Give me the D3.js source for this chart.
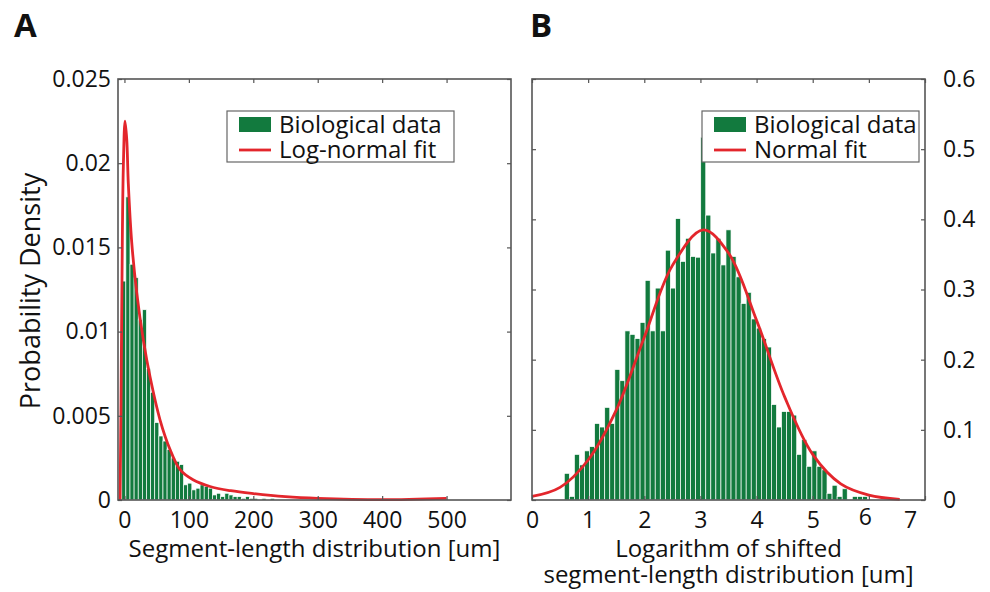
<!DOCTYPE html>
<html><head><meta charset="utf-8">
<script src="https://cdn.jsdelivr.net/npm/d3@7"></script>
<style>
body{margin:0;background:#fff}
svg{display:block}
text{font-family:'Open Sans',sans-serif;fill:#111}
</style>
</head><body>
<svg id="c" width="990" height="592"></svg>
<script>
// ---------- Panel A data ----------
const aBinStart = -4.2;
const aBinWidth = 6.4;
const aDensity = [0.013, 0.018, 0.0140, 0.0132, 0.0107, 0.0113, 0.0078, 0.0064, 0.0046, 0.0038,
  0.0035, 0.0030, 0.0025, 0.0023, 0.0021, 0.0009, 0.0010, 0.0006, 0.0007, 0.0009,
  0.0008, 0.0007, 0.0003, 0.0004, 0.0002, 0.0004, 0.0003, 0.0002, 0.0002, 0.0001,
  0.0002, 0.0001, 0.0001, 0, 0.0001, 0, 0.0001];
const aFitX = [-6.8, -5.3, -3.2, -1.7, 0.9, 3.6, 6, 11.3, 19.1, 29.3, 39.8, 55.3, 70.8, 86.3, 106.5, 132.9, 165, 200, 250, 300, 400, 500];
const aFitY = [0, 0.0059, 0.0158, 0.0198, 0.0225, 0.0214, 0.0188, 0.0153, 0.0123, 0.0095, 0.0073, 0.00475, 0.0030, 0.0018, 0.0012, 0.0008, 0.00055, 0.00038, 0.0002, 0.0001, 0.00002, 0.0001];
const aXTicks = [0, 100, 200, 300, 400, 500];
const aYTicks = [0, 0.005, 0.01, 0.015, 0.02, 0.025];
const aYTickLabels = ["0", "0.005", "0.01", "0.015", "0.02", "0.025"];

// ---------- Panel B data ----------
const bBinStart = 0.575;
const bBinWidth = 0.09;
const bDensity = [0.038, 0.005, 0.065, 0.050, 0.070, 0.076, 0.109, 0.104, 0.132, 0.109,
  0.186, 0.170, 0.241, 0.236, 0.230, 0.253, 0.313, 0.241, 0.302, 0.241,
  0.356, 0.302, 0.401, 0.340, 0.373, 0.347, 0.346, 0.517, 0.406, 0.352,
  0.373, 0.335, 0.385, 0.347, 0.318, 0.280, 0.296, 0.258, 0.245, 0.230,
  0.218, 0.136, 0.104, 0.126, 0.126, 0.121, 0.065, 0.086, 0.048, 0.070,
  0.048, 0.043, 0.0095, 0.021, 0.005, 0.016, 0, 0.005, 0.005, 0.005];
const bFitX = [0, 0.5, 1.0, 1.5, 2.0, 2.5, 3.05, 3.5, 4.0, 4.5, 5.0, 5.5, 6.0, 6.55];
const bFitY = [0.005, 0.018, 0.057, 0.128, 0.232, 0.334, 0.385, 0.352, 0.256, 0.147, 0.065, 0.023, 0.007, 0.001];
const bXTicks = [0, 1, 2, 3, 4, 5, 6, 7];
const bYTicks = [0, 0.1, 0.2, 0.3, 0.4, 0.5, 0.6];
const bYTickLabels = ["0", "0.1", "0.2", "0.3", "0.4", "0.5", "0.6"];

const legendA = ["Biological data", "Log-normal fit"];
const legendB = ["Biological data", "Normal fit"];

// ---------- styles ----------
const GREEN = "#127a3e", RED = "#e3262c", FRAME = "#555";
const TICKFS = 23, LABELFS = 24;

const svg = d3.select("#c");

function panel(opt) {
  const {x0, x1, y0, y1, xDom, yDom, binStart, binWidth, dens, fitX, fitY, xTicks, yTicks, yLabels, yRight, legend, leg} = opt;
  const x = d3.scaleLinear().domain(xDom).range([x0, x1]);
  const y = d3.scaleLinear().domain(yDom).range([y1, y0]);
  const g = svg.append("g");

  // bars
  g.selectAll("rect.bar").data(dens).join("rect")
    .attr("class", "bar")
    .attr("x", (d, i) => x(binStart + i * binWidth))
    .attr("width", (d, i) => x(binStart + (i + 1) * binWidth) - x(binStart + i * binWidth))
    .attr("y", d => y(d))
    .attr("height", d => y(0) - y(d))
    .attr("fill", GREEN)
    .attr("stroke", "#fff")
    .attr("stroke-width", 0.7);

  // fit curve
  const pts = fitX.map((v, i) => [v, fitY[i]]);
  g.append("path").datum(pts)
    .attr("d", d3.line().x(d => x(d[0])).y(d => y(d[1])).curve(d3.curveCatmullRom.alpha(0.5)))
    .attr("fill", "none").attr("stroke", RED).attr("stroke-width", 2.8);

  // frame
  g.append("rect").attr("x", x0).attr("y", y0).attr("width", x1 - x0).attr("height", y1 - y0)
    .attr("fill", "none").attr("stroke", FRAME).attr("stroke-width", 1.6);

  // axes
  const fmtAxis = sel => {
    sel.select(".domain").remove();
    sel.selectAll(".tick line").attr("stroke", FRAME).attr("stroke-width", 1.2);
    sel.attr("font-size", TICKFS).attr("font-family", "'Open Sans',sans-serif");
    sel.selectAll("text").attr("fill", "#111");
  };
  const xb = g.append("g").attr("transform", `translate(0,${y1})`)
    .call(d3.axisBottom(x).tickValues(xTicks).tickFormat(d3.format("d")).tickSizeInner(-4).tickSizeOuter(0).tickPadding(12))
    .call(fmtAxis);
  g.append("g").attr("transform", `translate(0,${y0})`)
    .call(d3.axisTop(x).tickValues(xTicks).tickFormat("").tickSizeInner(-4).tickSizeOuter(0))
    .call(fmtAxis);
  const yAx = yRight
    ? d3.axisRight(y).tickValues(yTicks).tickFormat((d, i) => yLabels[i]).tickSizeInner(-4).tickSizeOuter(0).tickPadding(18)
    : d3.axisLeft(y).tickValues(yTicks).tickFormat((d, i) => yLabels[i]).tickSizeInner(-4).tickSizeOuter(0).tickPadding(7);
  g.append("g").attr("transform", `translate(${yRight ? x1 : x0},0)`).call(yAx).call(fmtAxis);
  const yOther = yRight ? d3.axisLeft(y) : d3.axisRight(y);
  g.append("g").attr("transform", `translate(${yRight ? x0 : x1},0)`)
    .call(yOther.tickValues(yTicks).tickFormat("").tickSizeInner(-4).tickSizeOuter(0))
    .call(fmtAxis);

  // legend
  g.append("rect").attr("x", leg.x).attr("y", leg.y).attr("width", leg.w).attr("height", leg.h)
    .attr("fill", "#fff").attr("stroke", "#666").attr("stroke-width", 1.2);
  g.append("rect").attr("x", leg.x + 12).attr("y", leg.y + 6).attr("width", 32).attr("height", 15).attr("fill", GREEN);
  g.append("line").attr("x1", leg.x + 12).attr("x2", leg.x + 44).attr("y1", leg.y + 39).attr("y2", leg.y + 39)
    .attr("stroke", RED).attr("stroke-width", 2.8);
  g.append("text").attr("x", leg.x + 52).attr("y", leg.y + 22).attr("font-size", LABELFS).text(legend[0]);
  g.append("text").attr("x", leg.x + 52).attr("y", leg.y + 47).attr("font-size", LABELFS).text(legend[1]);
  return {g, xb};
}

const A = panel({x0: 118, x1: 511, y0: 79, y1: 500, xDom: [-10, 600], yDom: [0, 0.025],
  binStart: aBinStart, binWidth: aBinWidth, dens: aDensity, fitX: aFitX, fitY: aFitY,
  xTicks: aXTicks, yTicks: aYTicks, yLabels: aYTickLabels, yRight: false, legend: legendA,
  leg: {x: 227, y: 111, w: 227, h: 51}});

const B = panel({x0: 532, x1: 925, y0: 79, y1: 500, xDom: [0, 7], yDom: [0, 0.6],
  binStart: bBinStart, binWidth: bBinWidth, dens: bDensity, fitX: bFitX, fitY: bFitY,
  xTicks: bXTicks, yTicks: bYTicks, yLabels: bYTickLabels, yRight: true, legend: legendB,
  leg: {x: 702, y: 111, w: 217, h: 51}});

// nudge the last two B x labels as in the reference
B.xb.selectAll(".tick text").each(function(d) {
  if (d === 6) d3.select(this).attr("dx", -4).attr("dy", "0.58em");
  if (d === 7) d3.select(this).attr("dx", -15);
});

// axis titles
svg.append("text").attr("x", 314.5).attr("y", 557).attr("text-anchor", "middle").attr("font-size", LABELFS)
  .text("Segment-length distribution [um]");
svg.append("text").attr("x", 728.5).attr("y", 557).attr("text-anchor", "middle").attr("font-size", LABELFS)
  .text("Logarithm of shifted");
svg.append("text").attr("x", 728.5).attr("y", 583).attr("text-anchor", "middle").attr("font-size", LABELFS)
  .text("segment-length distribution [um]");
svg.append("text").attr("transform", "translate(40,291) rotate(-90)").attr("text-anchor", "middle")
  .attr("font-size", 27).text("Probability Density");

// panel letters
svg.append("text").attr("x", 14).attr("y", 37).attr("font-size", 33).attr("font-weight", 700).text("A");
svg.append("text").attr("x", 530).attr("y", 37).attr("font-size", 33).attr("font-weight", 700).text("B");
</script>
</body></html>
